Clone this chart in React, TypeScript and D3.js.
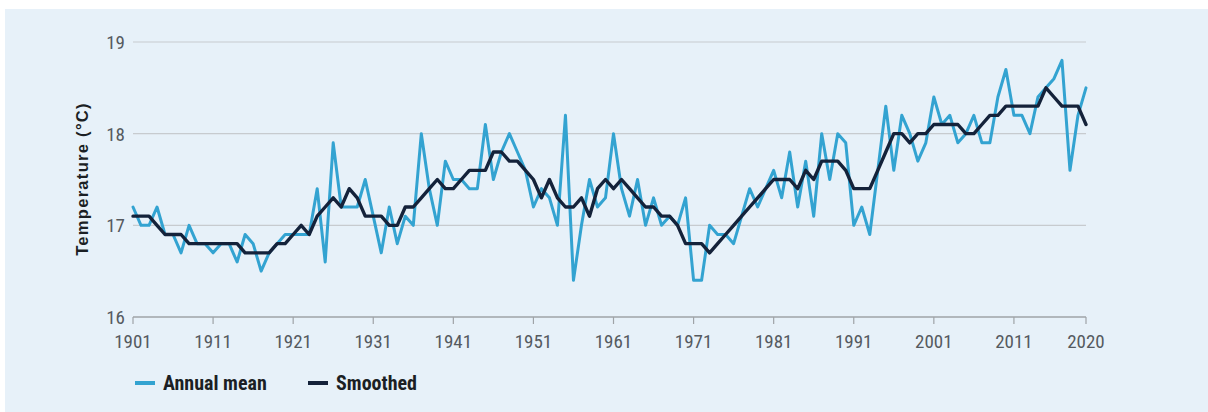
import React from "react";
import * as d3 from "d3";

const startYear = 1901;
const endYear = 2020;

const annualMean: number[] = [
  17.2, 17.0, 17.0, 17.2, 16.9, 16.9, 16.7, 17.0, 16.8, 16.8,
  16.7, 16.8, 16.8, 16.6, 16.9, 16.8, 16.5, 16.7, 16.8, 16.9,
  16.9, 16.9, 16.9, 17.4, 16.6, 17.9, 17.2, 17.2, 17.2, 17.5,
  17.1, 16.7, 17.2, 16.8, 17.1, 17.0, 18.0, 17.4, 17.0, 17.7,
  17.5, 17.5, 17.4, 17.4, 18.1, 17.5, 17.8, 18.0, 17.8, 17.6,
  17.2, 17.4, 17.3, 17.0, 18.2, 16.4, 17.0, 17.5, 17.2, 17.3,
  18.0, 17.4, 17.1, 17.5, 17.0, 17.3, 17.0, 17.1, 17.0, 17.3,
  16.4, 16.4, 17.0, 16.9, 16.9, 16.8, 17.1, 17.4, 17.2, 17.4,
  17.6, 17.3, 17.8, 17.2, 17.7, 17.1, 18.0, 17.5, 18.0, 17.9,
  17.0, 17.2, 16.9, 17.6, 18.3, 17.6, 18.2, 18.0, 17.7, 17.9,
  18.4, 18.1, 18.2, 17.9, 18.0, 18.2, 17.9, 17.9, 18.4, 18.7,
  18.2, 18.2, 18.0, 18.4, 18.5, 18.6, 18.8, 17.6, 18.2, 18.5,
];

const smoothed: number[] = [
  17.1, 17.1, 17.1, 17.0, 16.9, 16.9, 16.9, 16.8, 16.8, 16.8,
  16.8, 16.8, 16.8, 16.8, 16.7, 16.7, 16.7, 16.7, 16.8, 16.8,
  16.9, 17.0, 16.9, 17.1, 17.2, 17.3, 17.2, 17.4, 17.3, 17.1,
  17.1, 17.1, 17.0, 17.0, 17.2, 17.2, 17.3, 17.4, 17.5, 17.4,
  17.4, 17.5, 17.6, 17.6, 17.6, 17.8, 17.8, 17.7, 17.7, 17.6,
  17.5, 17.3, 17.5, 17.3, 17.2, 17.2, 17.3, 17.1, 17.4, 17.5,
  17.4, 17.5, 17.4, 17.3, 17.2, 17.2, 17.1, 17.1, 17.0, 16.8,
  16.8, 16.8, 16.7, 16.8, 16.9, 17.0, 17.1, 17.2, 17.3, 17.4,
  17.5, 17.5, 17.5, 17.4, 17.6, 17.5, 17.7, 17.7, 17.7, 17.6,
  17.4, 17.4, 17.4, 17.6, 17.8, 18.0, 18.0, 17.9, 18.0, 18.0,
  18.1, 18.1, 18.1, 18.1, 18.0, 18.0, 18.1, 18.2, 18.2, 18.3,
  18.3, 18.3, 18.3, 18.3, 18.5, 18.4, 18.3, 18.3, 18.3, 18.1,
];

const xTickYears: number[] = [1901, 1911, 1921, 1931, 1941, 1951, 1961, 1971, 1981, 1991, 2001, 2011, 2020];
const yTicks: number[] = [16, 17, 18, 19];
const seriesNames: string[] = ["Annual mean", "Smoothed"];

const W = 1208;
const H = 412;
const BLUE = "#33a3d1";
const DARK = "#14223a";
const NARROW = "'Liberation Sans Narrow', 'Arial Narrow', 'Roboto Condensed', 'DejaVu Sans Condensed', sans-serif";

export default function App() {
  const x = d3.scaleLinear().domain([startYear, endYear]).range([133, 1086]);
  const y = d3.scaleLinear().domain([16, 19]).range([317, 42]);

  const lineGen = d3
    .line<number>()
    .x((_, i) => x(startYear + i))
    .y((d) => y(d))
    .curve(d3.curveLinear);

  const annualPath = lineGen(annualMean) || "";
  const smoothPath = lineGen(smoothed) || "";

  return (
    <div style={{ position: "absolute", left: 0, top: 0 }}>
      <svg width={W} height={H} style={{ display: "block" }}>
        <rect x={0} y={0} width={W} height={H} fill="#ffffff" />
        <rect x={5} y={9} width={W - 5} height={H - 9} fill="#e7f1f9" />

        {/* gridlines */}
        {yTicks
          .filter((t) => t !== 16)
          .map((t) => (
            <line key={t} x1={x(startYear)} x2={x(endYear)} y1={y(t)} y2={y(t)} stroke="#c7cbcf" strokeWidth={1.2} />
          ))}

        {/* x axis */}
        <line x1={x(startYear)} x2={x(endYear)} y1={y(16)} y2={y(16)} stroke="#9fa3a7" strokeWidth={1.6} />
        {xTickYears.map((yr) => (
          <g key={yr}>
            <line x1={x(yr)} x2={x(yr)} y1={y(16)} y2={y(16) + 7} stroke="#9fa3a7" strokeWidth={1.2} />
            <text x={x(yr)} y={348} textAnchor="middle" fontFamily={NARROW} fontSize={19} fill="#555a5f">
              {yr}
            </text>
          </g>
        ))}

        {/* y labels */}
        {yTicks.map((t) => (
          <text key={t} x={125} y={y(t) + 7} textAnchor="end" fontFamily={NARROW} fontSize={19} fill="#555a5f">
            {t}
          </text>
        ))}

        {/* y title */}
        <text
          transform={`translate(88,179) rotate(-90)`}
          textAnchor="middle"
          fontFamily="'Liberation Sans', Arial, sans-serif"
          fontWeight="bold"
          fontSize={16.5}
          letterSpacing={1.3}
          fill="#1b1f24"
        >
          Temperature (°C)
        </text>

        {/* lines */}
        <path d={annualPath} fill="none" stroke={BLUE} strokeWidth={3} strokeLinejoin="round" strokeLinecap="round" />
        <path d={smoothPath} fill="none" stroke={DARK} strokeWidth={3.4} strokeLinejoin="round" strokeLinecap="round" />

        {/* legend */}
        <line x1={135} x2={155} y1={383} y2={383} stroke={BLUE} strokeWidth={4} />
        <text x={163} y={390} fontFamily={NARROW} fontWeight="bold" fontSize={20} fill="#1b1f24">
          {seriesNames[0]}
        </text>
        <line x1={308} x2={328} y1={383} y2={383} stroke={DARK} strokeWidth={4} />
        <text x={336} y={390} fontFamily={NARROW} fontWeight="bold" fontSize={20} fill="#1b1f24">
          {seriesNames[1]}
        </text>
      </svg>
    </div>
  );
}
